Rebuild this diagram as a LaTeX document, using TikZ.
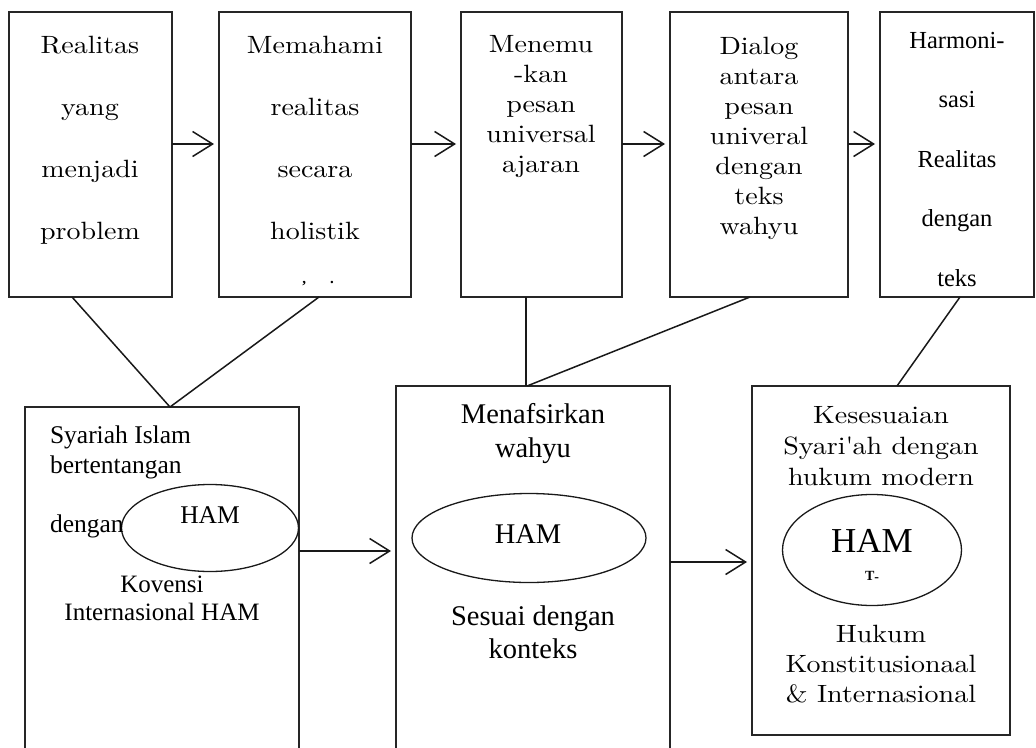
\documentclass[tikz,border=0pt]{standalone}
\usepackage{fontspec}
\newfontfamily\tms{Liberation Serif}
\newfontfamily\lmt{lmroman10-regular}[Extension=.otf, FakeStretch=1.12]
\usetikzlibrary{arrows.meta,shapes.geometric}
\begin{document}
\begin{tikzpicture}[x=1pt,y=-1pt,
  box/.style={draw=black!85, line width=1.9pt, inner sep=0pt, outer sep=0pt, rectangle},
  ell/.style={draw=black!90, line width=1.3pt, ellipse, inner sep=0pt, outer sep=0pt},
  link/.style={draw=black!90, line width=1.5pt},
  arr/.style={draw=black!90, line width=1.5pt, -{Straight Barb[length=20pt,width=25pt]}, shorten >=5pt},
  txt/.style={align=center, anchor=base, inner sep=0pt, outer sep=0pt},
  lmtop/.style={txt, font=\lmt\fontsize{25}{62}\selectfont},
  lmmid/.style={txt, font=\lmt\fontsize{25}{30}\selectfont},
  tmtop/.style={txt, font=\tms\fontsize{24.5}{59.5}\selectfont},
  tmA/.style={txt, font=\tms\fontsize{25.5}{30}\selectfont},
  tmB/.style={txt, font=\tms\fontsize{28.5}{33.5}\selectfont},
  lmC/.style={txt, font=\lmt\fontsize{25}{30.5}\selectfont}
]
\useasboundingbox (0,0) rectangle (1036,747);
\fill[white] (0,0) rectangle (1036,747);
\clip (0,0) rectangle (1036,747);

% top boxes
\node[box, minimum width=163pt, minimum height=285pt] (b1) at (90.5,154.5) {};
\node[box, minimum width=192pt, minimum height=285pt] (b2) at (315,154.5) {};
\node[box, minimum width=161pt, minimum height=285pt] (b3) at (541.5,154.5) {};
\node[box, minimum width=178pt, minimum height=285pt] (b4) at (759,154.5) {};
\node[box, minimum width=154pt, minimum height=285pt] (b5) at (957,154.5) {};

% bottom boxes
\node[box, minimum width=274pt, minimum height=363pt] (bA) at (162,588.5) {};
\node[box, minimum width=274pt, minimum height=384pt] (bB) at (533,578) {};
\node[box, minimum width=258pt, minimum height=349pt] (bC) at (881,560.5) {};

% ellipses
\node[ell, minimum width=177pt, minimum height=87pt] (eA) at (210,528) {};
\node[ell, minimum width=234pt, minimum height=89pt] (eB) at (529,538) {};
\node[ell, minimum width=179pt, minimum height=111pt] (eC) at (872,550) {};

% top texts (anchor = baseline of last line)
\node[lmtop] (t1) at (90,239) {Realitas\\yang\\menjadi\\problem};
\node[lmtop] (t2) at (315,239) {Memahami\\realitas\\secara\\holistik};
\node[txt, font=\tms\bfseries\fontsize{15}{15}\selectfont] (m2) at (318,283) {,\hspace{24pt}.};
\node[lmmid] (t3) at (541,172) {Menemu\\-kan\\pesan\\universal\\ajaran};
\node[lmmid] (t4) at (759,234) {Dialog\\antara\\pesan\\univeral\\dengan\\teks\\wahyu};
\node[tmtop] (t5) at (957,286) {Harmoni-\\sasi\\Realitas\\dengan\\teks};

% box A texts
\node[txt, align=left, anchor=base west, font=\tms\fontsize{25.5}{30}\selectfont] (tA1) at (50,473) {Syariah Islam\\bertentangan};
\node[txt, anchor=base west, font=\tms\fontsize{25.5}{30}\selectfont] (tA2) at (50,532) {dengan};
\node[txt, font=\tms\fontsize{25.5}{30}\selectfont] (hA) at (210,523) {HAM};
\node[tmA, font=\tms\fontsize{25}{28}\selectfont] (tA3) at (162,620) {Kovensi\\Internasional HAM};

% box B texts
\node[tmB] (tB1) at (533,457) {Menafsirkan\\wahyu};
\node[txt, font=\tms\fontsize{28.5}{33}\selectfont] (hB) at (528,543) {HAM};
\node[tmB, font=\tms\fontsize{28.5}{33}\selectfont] (tB2) at (533,658) {Sesuai dengan\\konteks};

% box C texts
\node[lmC, font=\lmt\fontsize{25}{31}\selectfont] (tC1) at (881,485) {Kesesuaian\\Syari\textquotesingle ah dengan\\hukum modern};
\node[txt, font=\tms\fontsize{35}{35}\selectfont] (hC) at (872,552) {HAM};
\node[txt, font=\tms\bfseries\fontsize{14}{14}\selectfont] (mC) at (872,580) {T\raisebox{-1.5pt}{-}};
\node[lmC, font=\lmt\fontsize{25}{30}\selectfont] (tC2) at (881,702) {Hukum\\Konstitusionaal\\\& Internasional};

% arrows top
\draw[arr] ([yshift=10.5pt]b1.east) -- ([yshift=10.5pt]b2.west);
\draw[arr] ([yshift=10.5pt]b2.east) -- ([yshift=10.5pt]b3.west);
\draw[arr] ([yshift=10.5pt]b3.east) -- ([yshift=10.5pt]b4.west);
\draw[arr] ([yshift=10.5pt]b4.east) -- ([yshift=10.5pt]b5.west);

% links
\draw[link] ([xshift=-18.5pt]b1.south) -- ([xshift=8pt]bA.north);
\draw[link] ([xshift=4pt]b2.south) -- ([xshift=8pt]bA.north);
\draw[link] ([xshift=-15.5pt]b3.south) -- ([xshift=-15.5pt]b3.south |- bB.north);
\draw[link] ([xshift=-9pt]b4.south) -- ([xshift=-6pt]bB.north);
\draw[link] ([xshift=3pt]b5.south) -- ([xshift=16pt]bC.north);

% bottom arrows
\draw[arr] ([yshift=37.5pt]bA.east) -- ([yshift=37.5pt]bA.east -| bB.west);
\draw[arr] ([yshift=16pt]bB.east) -- ([yshift=16pt]bB.east -| bC.west);
\end{tikzpicture}
\end{document}
